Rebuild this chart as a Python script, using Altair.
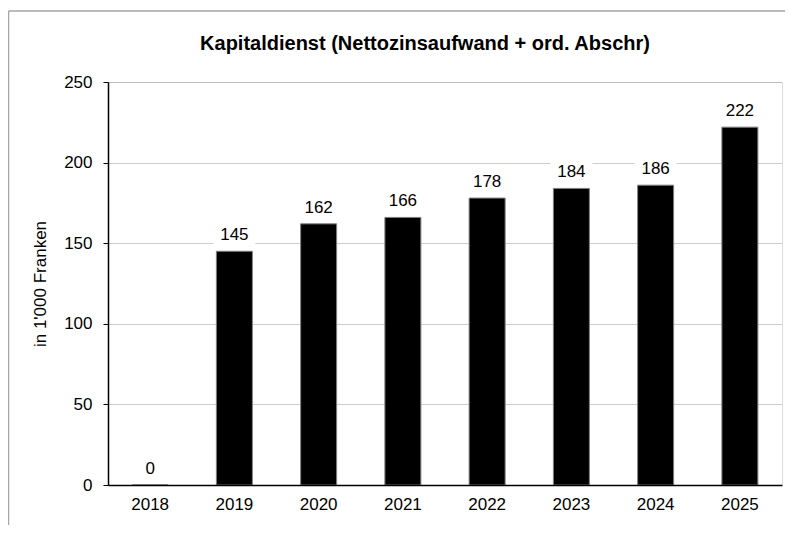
import altair as alt
import pandas as pd

years = ["2018", "2019", "2020", "2021", "2022", "2023", "2024", "2025"]
values = [0, 145, 162, 166, 178, 184, 186, 222]
labels = [str(v) for v in values]
y_ticks = [0, 50, 100, 150, 200, 250]
title_text = "Kapitaldienst (Nettozinsaufwand + ord. Abschr)"

df = pd.DataFrame({"Jahr": years, "Wert": values, "Label": labels})
frame = pd.DataFrame({"t": [title_text]})

W, H = 674, 403
FONT = "Liberation Sans"

x_enc = alt.X(
    "Jahr:N", sort=years, title=None,
    scale=alt.Scale(paddingInner=0.5, paddingOuter=0.25),
    axis=alt.Axis(labelAngle=0, ticks=False, domainColor="black", domainWidth=1.5,
                  labelFontSize=17, labelPadding=11, labelColor="black", labelFont=FONT),
)
y_enc = alt.Y(
    "Wert:Q", title="in 1'000 Franken",
    scale=alt.Scale(domain=[0, 250], nice=False),
    axis=alt.Axis(values=y_ticks, grid=True, gridColor="#9a9a9a", gridDash=[1, 1],
                  gridWidth=1, tickSize=5, tickColor="black", domainColor="black", domainWidth=1.5,
                  labelFontSize=17, labelPadding=11, labelColor="black", labelFont=FONT,
                  titleFontSize=17, titleFont=FONT, titleFontWeight="normal",
                  titleColor="black", titlePadding=14),
)

base = alt.Chart(df)

mask = base.mark_rect(color="white", width=42, yOffset=-27, y2Offset=-5).encode(
    x=x_enc, y=y_enc, y2="Wert:Q"
)
bars = base.mark_bar(color="black", stroke="#808080", strokeWidth=1, width=36).encode(
    x=x_enc, y=y_enc
)
text = base.mark_text(fontSize=17, font=FONT, color="black", dy=-16, baseline="middle").encode(
    x=x_enc, y=y_enc, text="Label:N"
)

title = alt.Chart(frame).mark_text(
    fontSize=20, fontWeight="bold", font=FONT, color="black", align="center", baseline="alphabetic"
).encode(x=alt.value(317), y=alt.value(-32), text="t:N")

border_left = alt.Chart(frame).mark_rule(color="#a6a6a6", strokeWidth=1.5).encode(
    x=alt.value(-99.5), y=alt.value(-71), y2=alt.value(H + 45)
)
border_top = alt.Chart(frame).mark_rule(color="#a6a6a6", strokeWidth=1.5).encode(
    x=alt.value(-99.5), x2=alt.value(W + 3), y=alt.value(-71)
)

chart = alt.layer(mask, bars, text, title, border_left, border_top).properties(
    width=W, height=H,
    autosize=alt.AutoSizeParams(type="none"),
    padding={"left": 100, "top": 74, "right": 3, "bottom": 40},
).configure_view(stroke=None).configure(background="white")

chart.save("out.html", embed_options={"renderer": "svg", "actions": False})
